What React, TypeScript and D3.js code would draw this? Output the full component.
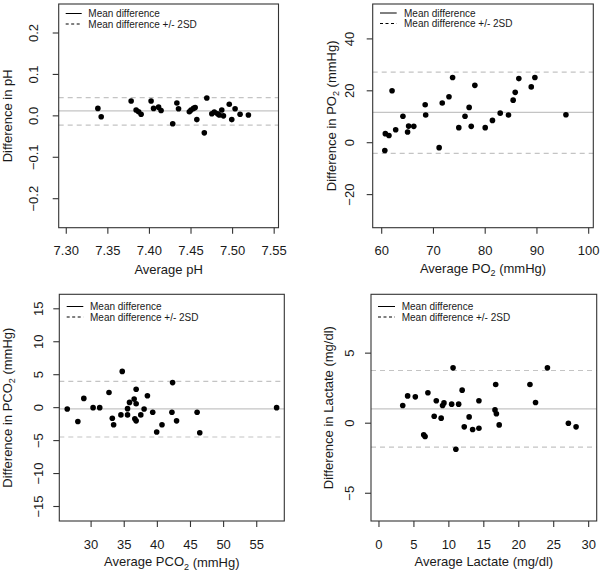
import React from "react";
import * as d3 from "d3";

// ---------- DATA ----------
const phAvg = [7.338, 7.342, 7.378, 7.384, 7.387, 7.390, 7.402, 7.405, 7.411, 7.414, 7.428, 7.433, 7.435, 7.448, 7.450, 7.453, 7.455, 7.457, 7.466, 7.469, 7.475, 7.478, 7.482, 7.484, 7.487, 7.489, 7.496, 7.499, 7.503, 7.509, 7.519];
const phDiff = [0.018, -0.002, 0.036, 0.014, 0.010, 0.004, 0.036, 0.018, 0.021, 0.013, -0.019, 0.031, 0.017, 0.010, 0.014, 0.018, 0.020, -0.009, -0.041, 0.043, 0.005, 0.009, 0.005, 0.002, 0.014, 0.000, 0.028, -0.009, 0.017, 0.004, 0.002];
const phLimits = [-0.0225, 0.012, 0.044]; // lower, mean, upper

const po2Avg = [60.6, 60.7, 61.4, 62.0, 62.7, 64.1, 65.0, 65.2, 66.2, 68.4, 68.5, 71.1, 71.7, 73.0, 73.7, 74.9, 76.1, 76.9, 77.3, 78.0, 80.0, 81.4, 82.9, 84.5, 85.4, 85.8, 86.5, 88.9, 89.6, 95.6];
const po2Diff = [-3.0, 3.5, 2.8, 20.0, 5.0, 10.2, 4.1, 6.4, 6.3, 14.6, 10.7, -1.9, 15.3, 17.7, 25.1, 5.8, 10.2, 13.6, 6.3, 22.1, 5.8, 8.6, 11.4, 10.7, 16.4, 19.4, 24.7, 21.5, 25.1, 10.8];
const po2Limits = [-4.1, 11.7, 27.2];

const pco2Avg = [26.4, 28.0, 28.9, 30.3, 31.3, 32.7, 33.2, 33.4, 34.7, 34.5, 35.5, 35.5, 35.8, 36.5, 36.6, 36.8, 36.8, 36.8, 37.5, 38.0, 38.5, 39.3, 39.9, 40.7, 42.2, 42.3, 42.9, 46.0, 46.4, 58.0];
const pco2Diff = [-0.2, -2.1, 1.4, 0.0, 0.0, 2.3, -1.6, -2.6, 5.5, -1.1, -0.15, -1.1, 0.8, 1.3, -1.7, 2.8, 0.6, -2.0, -1.1, -0.2, 1.8, -0.7, -3.7, -2.6, -0.7, 3.8, -2.0, -0.7, -3.8, 0.0];
const pco2Limits = [-4.45, -0.2, 4.0];

const lacAvg = [3.4, 4.1, 5.2, 6.4, 6.6, 7.0, 7.9, 8.2, 8.9, 9.1, 9.3, 10.4, 10.6, 11.0, 11.4, 11.9, 12.2, 12.9, 13.4, 14.3, 14.3, 16.6, 16.7, 16.8, 17.2, 21.6, 22.4, 24.1, 27.1, 28.2];
const lacDiff = [1.26, 1.95, 1.88, -0.83, -0.95, 2.17, 0.5, 1.6, 0.36, 1.26, 1.45, 1.36, 3.95, -1.86, 1.36, 2.36, -0.26, 0.45, -0.45, 1.6, -0.36, 0.95, 2.76, 0.67, -0.12, 2.76, 1.48, 3.95, 0.0, -0.26];
const lacLimits = [-1.71, 1.02, 3.76];

const phXTicks = [7.30, 7.35, 7.40, 7.45, 7.50, 7.55];
const phYTicks = [-0.2, -0.1, 0.0, 0.1, 0.2];
const po2XTicks = [60, 70, 80, 90, 100];
const po2YTicks = [-20, 0, 20, 40];
const pco2XTicks = [30, 35, 40, 45, 50, 55];
const pco2YTicks = [-15, -10, -5, 0, 5, 10, 15];
const lacXTicks = [0, 5, 10, 15, 20, 25, 30];
const lacYTicks = [-5, 0, 5];

const legendLabels = ["Mean difference", "Mean difference +/- 2SD"];

// ---------- COMPONENTS ----------
const FONT = "'Liberation Sans', Arial, Helvetica, sans-serif";
const GRAY = "#c4c4c4";
const INK = "#1a1a1a";

type Label = { main: string; sub?: string; rest?: string };

function LabelText({ label }: { label: Label }) {
  return (
    <>
      {label.main}
      {label.sub ? (
        <tspan baselineShift="sub" fontSize="9">{label.sub}</tspan>
      ) : null}
      {label.rest ? <tspan>{label.rest}</tspan> : null}
    </>
  );
}

type PanelProps = {
  xs: number[];
  ys: number[];
  limits: number[];
  xDomain: [number, number];
  yDomain: [number, number];
  box: { x0: number; x1: number; y0: number; y1: number };
  xTicks: number[];
  yTicks: number[];
  xFmt: (v: number) => string;
  yFmt: (v: number) => string;
  xLabel: Label;
  yLabel: Label;
  yTickX: number;
  yTitleX: number;
  xTickY: number;
  xTitleY: number;
  legend: { lx0: number; lx1: number; tx: number; y1: number; y2: number };
};

function Panel(p: PanelProps) {
  const x = d3.scaleLinear().domain(p.xDomain).range([p.box.x0, p.box.x1]);
  const y = d3.scaleLinear().domain(p.yDomain).range([p.box.y1, p.box.y0]);
  const tick = 6;
  const yMid = (p.box.y0 + p.box.y1) / 2;
  const xMid = (p.box.x0 + p.box.x1) / 2;
  const [lo, mean, hi] = p.limits;
  return (
    <g fontFamily={FONT} fill={INK}>
      {/* limit lines */}
      <line x1={p.box.x0} x2={p.box.x1} y1={y(mean)} y2={y(mean)} stroke={GRAY} strokeWidth={1.2} />
      <line x1={p.box.x0} x2={p.box.x1} y1={y(hi)} y2={y(hi)} stroke={GRAY} strokeWidth={1.2} strokeDasharray="5,4" />
      <line x1={p.box.x0} x2={p.box.x1} y1={y(lo)} y2={y(lo)} stroke={GRAY} strokeWidth={1.2} strokeDasharray="5,4" />
      {/* points */}
      {p.xs.map((v, i) => (
        <circle key={i} cx={x(v)} cy={y(p.ys[i])} r={2.8} fill="#000" />
      ))}
      {/* box */}
      <rect x={p.box.x0} y={p.box.y0} width={p.box.x1 - p.box.x0} height={p.box.y1 - p.box.y0} fill="none" stroke="#333" strokeWidth={1.1} />
      {/* x ticks */}
      {p.xTicks.map((t) => (
        <g key={"x" + t}>
          <line x1={x(t)} x2={x(t)} y1={p.box.y1} y2={p.box.y1 + tick} stroke="#333" strokeWidth={1.1} />
          <text x={x(t)} y={p.xTickY} textAnchor="middle" dominantBaseline="central" fontSize={13}>
            {p.xFmt(t)}
          </text>
        </g>
      ))}
      {/* y ticks */}
      {p.yTicks.map((t) => (
        <g key={"y" + t}>
          <line x1={p.box.x0 - tick} x2={p.box.x0} y1={y(t)} y2={y(t)} stroke="#333" strokeWidth={1.1} />
          <text
            x={p.yTickX}
            y={y(t)}
            textAnchor="middle"
            dominantBaseline="central"
            fontSize={13}
            transform={`rotate(-90 ${p.yTickX} ${y(t)})`}
          >
            {p.yFmt(t)}
          </text>
        </g>
      ))}
      {/* axis titles */}
      <text x={xMid} y={p.xTitleY} textAnchor="middle" dominantBaseline="central" fontSize={13}>
        <LabelText label={p.xLabel} />
      </text>
      <text
        x={p.yTitleX}
        y={yMid}
        textAnchor="middle"
        dominantBaseline="central"
        fontSize={13}
        transform={`rotate(-90 ${p.yTitleX} ${yMid})`}
      >
        <LabelText label={p.yLabel} />
      </text>
      {/* legend */}
      <line x1={p.legend.lx0} x2={p.legend.lx1} y1={p.legend.y1} y2={p.legend.y1} stroke="#000" strokeWidth={1} />
      <line x1={p.legend.lx0} x2={p.legend.lx1} y1={p.legend.y2} y2={p.legend.y2} stroke="#000" strokeWidth={1} strokeDasharray="3,2.5" />
      <text x={p.legend.tx} y={p.legend.y1} dominantBaseline="central" fontSize={10}>{legendLabels[0]}</text>
      <text x={p.legend.tx} y={p.legend.y2} dominantBaseline="central" fontSize={10}>{legendLabels[1]}</text>
    </g>
  );
}

export default function App() {
  return (
    <svg width={600} height={571} style={{ display: "block", position: "absolute", left: 0, top: 0, background: "#fff" }}>
      <rect width={600} height={571} fill="#fff" />
      <Panel
        xs={phAvg}
        ys={phDiff}
        limits={phLimits}
        xDomain={[7.2909, 7.5552]}
        yDomain={[-0.27, 0.27]}
        box={{ x0: 58.7, x1: 278.5, y0: 4, y1: 227.7 }}
        xTicks={phXTicks}
        yTicks={phYTicks}
        xFmt={d3.format(".2f")}
        yFmt={d3.format(".1f")}
        xLabel={{ main: "Average pH" }}
        yLabel={{ main: "Difference in pH" }}
        yTickX={33.5}
        yTitleX={8}
        xTickY={250}
        xTitleY={269.5}
        legend={{ lx0: 65.7, lx1: 81.7, tx: 88.3, y1: 13.5, y2: 24 }}
      />
      <Panel
        xs={po2Avg}
        ys={po2Diff}
        limits={po2Limits}
        xDomain={[58.26, 100.89]}
        yDomain={[-32.75, 53.45]}
        box={{ x0: 372.7, x1: 593.3, y0: 4, y1: 227.7 }}
        xTicks={po2XTicks}
        yTicks={po2YTicks}
        xFmt={d3.format("d")}
        yFmt={d3.format("d")}
        xLabel={{ main: "Average PO", sub: "2", rest: " (mmHg)" }}
        yLabel={{ main: "Difference in PO", sub: "2", rest: " (mmHg)" }}
        yTickX={350}
        yTitleX={331.5}
        xTickY={250}
        xTitleY={268}
        legend={{ lx0: 380, lx1: 396.7, tx: 404, y1: 13, y2: 23.5 }}
      />
      <Panel
        xs={pco2Avg}
        ys={pco2Diff}
        limits={pco2Limits}
        xDomain={[25.2, 59.16]}
        yDomain={[-17.2, 17.2]}
        box={{ x0: 59.3, x1: 284.3, y0: 294.3, y1: 521 }}
        xTicks={pco2XTicks}
        yTicks={pco2YTicks}
        xFmt={d3.format("d")}
        yFmt={d3.format("d")}
        xLabel={{ main: "Average PCO", sub: "2", rest: " (mmHg)" }}
        yLabel={{ main: "Difference in PCO", sub: "2", rest: " (mmHg)" }}
        yTickX={38.3}
        yTitleX={7.5}
        xTickY={544.3}
        xTitleY={561.5}
        legend={{ lx0: 66.7, lx1: 83.3, tx: 90, y1: 306.5, y2: 317 }}
      />
      <Panel
        xs={lacAvg}
        ys={lacDiff}
        limits={lacLimits}
        xDomain={[-1.14, 31.15]}
        yDomain={[-6.98, 9.2]}
        box={{ x0: 371, x1: 596.7, y0: 294.3, y1: 521 }}
        xTicks={lacXTicks}
        yTicks={lacYTicks}
        xFmt={d3.format("d")}
        yFmt={d3.format("d")}
        xLabel={{ main: "Average Lactate (mg/dl)" }}
        yLabel={{ main: "Difference in Lactate (mg/dl)" }}
        yTickX={350}
        yTitleX={328.5}
        xTickY={544.3}
        xTitleY={561.5}
        legend={{ lx0: 378, lx1: 395, tx: 401.7, y1: 306.5, y2: 317 }}
      />
    </svg>
  );
}
